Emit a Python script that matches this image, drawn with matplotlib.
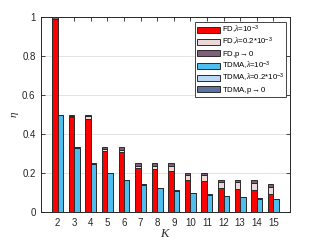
import numpy as np
import matplotlib
matplotlib.use('Agg')
import matplotlib.pyplot as plt

# values
K = [2, 3, 4, 5, 6, 7, 8, 9, 10, 11, 12, 13, 14, 15]

# FD, cumulative tops of each stacked segment
fd_lam1 = [0.988, 0.489, 0.478, 0.313, 0.306, 0.224, 0.219, 0.212, 0.162, 0.157, 0.123, 0.118, 0.113, 0.092]
fd_lam02 = [0.992, 0.492, 0.491, 0.323, 0.320, 0.237, 0.235, 0.235, 0.188, 0.188, 0.154, 0.154, 0.150, 0.127]
fd_p0 = [1.0, 0.5, 0.5, 0.333, 0.333, 0.25, 0.25, 0.25, 0.2, 0.2, 0.167, 0.167, 0.167, 0.143]

# TDMA, cumulative tops
tdma_lam1 = [0.497, 0.331, 0.248, 0.198, 0.165, 0.141, 0.123, 0.109, 0.098, 0.089, 0.081, 0.075, 0.069, 0.065]
tdma_lam02 = [0.498, 0.332, 0.249, 0.199, 0.166, 0.142, 0.124, 0.110, 0.099, 0.090, 0.082, 0.076, 0.070, 0.066]
tdma_p0 = [0.5, 0.333, 0.25, 0.2, 0.167, 0.143, 0.125, 0.111, 0.1, 0.091, 0.083, 0.077, 0.071, 0.067]

labels = ['FD,$\\lambda$=10$^{-3}$', 'FD,$\\lambda$=0.2*10$^{-3}$', 'FD,p$\\rightarrow$0',
          'TDMA,$\\lambda$=10$^{-3}$', 'TDMA,$\\lambda$=0.2*10$^{-3}$', 'TDMA,p$\\rightarrow$0']
colors = ['#ff0000', '#ecd8d8', '#7f5f7b', '#4dbeee', '#bcd8f4', '#5b72a2']

plt.rcParams['font.family'] = 'Liberation Sans'
plt.rcParams['mathtext.fontset'] = 'custom'
plt.rcParams['mathtext.rm'] = 'Liberation Sans'
plt.rcParams['mathtext.it'] = 'Liberation Serif:italic'

fig = plt.figure(figsize=(3.21, 2.41), dpi=100)
ax = fig.add_axes([0.128, 0.12, 0.775, 0.809])

x = np.array(K, dtype=float)
w = 0.33
ec = '#2a2a2a'
lw = 0.7

def stack(xpos, tops, cols, labs):
    bottom = np.zeros(len(xpos))
    for t, c, l in zip(tops, cols, labs):
        t = np.array(t)
        ax.bar(xpos, t - bottom, w, bottom=bottom, align='edge', color=c,
               edgecolor=ec, linewidth=lw, label=l, zorder=3)
        bottom = t

stack(x - w, [fd_lam1, fd_lam02, fd_p0], colors[:3], labels[:3])
stack(x, [tdma_lam1, tdma_lam02, tdma_p0], colors[3:], labels[3:])

ax.set_xlim(1, 16)
ax.set_ylim(0, 1)
ax.set_xticks(K)
ax.set_yticks([0, 0.2, 0.4, 0.6, 0.8, 1])
ax.set_yticklabels(['0', '0.2', '0.4', '0.6', '0.8', '1'])
ax.tick_params(direction='in', top=True, right=True, labelsize=7, length=3,
               width=0.6, colors='#262626', labelcolor='#262626', pad=4)
ax.yaxis.grid(True, color='#e3e3e3', linewidth=0.7, zorder=0)
ax.set_axisbelow(True)
for s in ax.spines.values():
    s.set_color('#262626')
    s.set_linewidth(0.7)

ax.set_xlabel('$K$', fontsize=9, labelpad=0, color='#262626')
ax.set_ylabel('$\\eta$', fontsize=8, labelpad=1, color='#262626')

leg = ax.legend(loc='upper right', bbox_to_anchor=(0.985, 0.975), borderaxespad=0,
                fontsize=5.6, handlelength=2.9, handleheight=0.8, labelspacing=0.02,
                handletextpad=0.25, borderpad=0.25, fancybox=False, framealpha=1)
leg.get_frame().set_edgecolor('#262626')
leg.get_frame().set_linewidth(0.6)

fig.savefig('out.png', dpi=100)
